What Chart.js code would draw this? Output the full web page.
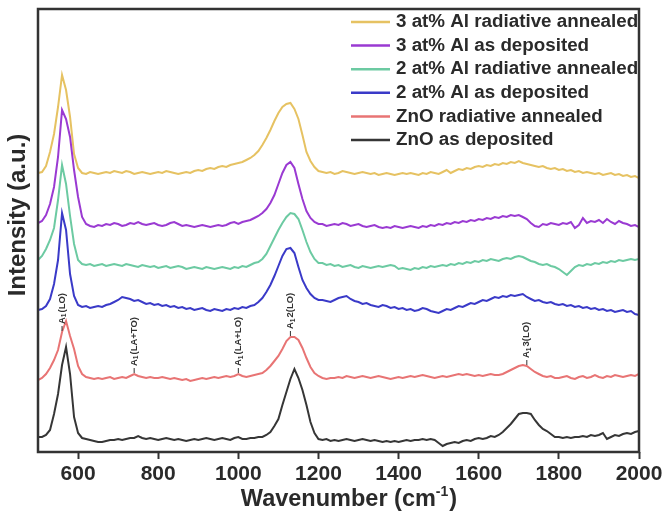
<!DOCTYPE html>
<html>
<head>
<meta charset="utf-8">
<title>Raman spectra</title>
<script src="https://cdn.jsdelivr.net/npm/chart.js@4.4.0/dist/chart.umd.min.js"></script>
<style>
  html, body { margin: 0; padding: 0; background: #fff; }
  #wrap { width: 667px; height: 519px; }
</style>
</head>
<body>
<div id="wrap"><canvas id="raman"></canvas></div>
<script>
// Raman shift grid (cm-1), shared by all spectra
const wavenumber = [
  500, 510, 520, 530, 540, 550, 560, 570, 580, 590,
  600, 610, 620, 630, 640, 650, 660, 670, 680, 690,
  700, 710, 720, 730, 740, 750, 760, 770, 780, 790,
  800, 810, 820, 830, 840, 850, 860, 870, 880, 890,
  900, 910, 920, 930, 940, 950, 960, 970, 980, 990,
  1000, 1010, 1020, 1030, 1040, 1050, 1060, 1070, 1080, 1090,
  1100, 1110, 1120, 1130, 1140, 1150, 1160, 1170, 1180, 1190,
  1200, 1210, 1220, 1230, 1240, 1250, 1260, 1270, 1280, 1290,
  1300, 1310, 1320, 1330, 1340, 1350, 1360, 1370, 1380, 1390,
  1400, 1410, 1420, 1430, 1440, 1450, 1460, 1470, 1480, 1490,
  1500, 1510, 1520, 1530, 1540, 1550, 1560, 1570, 1580, 1590,
  1600, 1610, 1620, 1630, 1640, 1650, 1660, 1670, 1680, 1690,
  1700, 1710, 1720, 1730, 1740, 1750, 1760, 1770, 1780, 1790,
  1800, 1810, 1820, 1830, 1840, 1850, 1860, 1870, 1880, 1890,
  1900, 1910, 1920, 1930, 1940, 1950, 1960, 1970, 1980, 1990,
  2000
];

// stacked intensities (a.u., offset per sample)
const znoDeposited = [
  15, 15, 17, 22, 38, 58, 87, 105, 78, 35,
  19, 14, 13, 12, 11, 10, 10, 11, 12, 12,
  13, 12, 13, 14, 14, 16, 14, 13, 14, 13,
  12, 13, 14, 13, 12, 13, 12, 11, 12, 13,
  12, 13, 14, 13, 12, 13, 14, 13, 12, 14,
  15, 13, 13, 14, 14, 15, 15, 17, 20, 26,
  33, 47, 60, 73, 83, 74, 62, 47, 30, 19,
  13, 12, 13, 11, 12, 11, 12, 13, 12, 11,
  12, 13, 12, 11, 12, 11, 10, 11, 10, 11,
  10, 11, 12, 11, 12, 12, 13, 12, 13, 12,
  9, 6, 8, 9, 10, 9, 11, 12, 11, 13,
  14, 13, 14, 16, 15, 17, 20, 24, 28, 33,
  38, 39, 39, 38, 32, 27, 23, 21, 18, 15,
  15, 14, 15, 14, 15, 15, 16, 15, 17, 16,
  17, 19, 13, 15, 17, 16, 18, 19, 18, 20,
  21
];

const znoAnnealed = [
  72, 74, 78, 84, 92, 102, 120, 131, 116, 103,
  86, 78, 75, 74, 73, 74, 73, 74, 75, 73,
  74, 75, 74, 76, 78, 76, 75, 74, 75, 74,
  74, 75, 74, 73, 74, 73, 72, 73, 71, 72,
  73, 74, 73, 74, 75, 74, 75, 76, 75, 76,
  78, 76, 75, 76, 77, 78, 79, 82, 86, 91,
  96, 103, 111, 115, 115, 112, 104, 94, 85, 79,
  76, 74, 73, 74, 74, 75, 74, 76, 75, 74,
  75, 76, 75, 74, 75, 76, 75, 74, 73, 74,
  75, 74, 75, 76, 75, 76, 77, 76, 75, 74,
  75, 76, 75, 76, 77, 78, 77, 78, 77, 76,
  77, 76, 77, 78, 77, 77, 78, 80, 82, 84,
  86, 87, 86, 83, 80, 78, 76, 75, 76, 74,
  74, 75, 76, 74, 73, 75, 76, 74, 75, 77,
  75, 74, 76, 75, 77, 76, 75, 76, 77, 76,
  78
];

const al2Deposited = [
  142, 143, 146, 153, 168, 192, 239, 222, 178, 156,
  147, 145, 146, 144, 145, 146, 145, 147, 148, 150,
  152, 155, 154, 153, 151, 152, 150, 148, 149, 147,
  148, 146, 147, 145, 146, 144, 145, 143, 144, 142,
  143, 144, 142, 141, 143, 142, 141, 143, 142, 144,
  143, 145, 144, 146, 147, 150, 154, 160, 167, 176,
  186, 196, 203, 204, 199, 185, 172, 164, 158, 154,
  152, 152, 151, 150, 152, 154, 155, 156, 153, 151,
  150, 148, 149, 147, 146, 145, 147, 146, 144, 145,
  143, 144, 142, 143, 141, 142, 144, 143, 141, 140,
  139, 141, 143, 142, 144, 146, 145, 147, 149, 148,
  150, 152, 151, 153, 155, 154, 156, 155, 157, 156,
  157, 158, 155, 153, 151, 152, 150, 149, 150, 148,
  147, 148, 146, 147, 145, 146, 144, 145, 143, 144,
  142, 143, 141, 142, 140, 141, 142, 140, 141, 138,
  137
];

const al2Annealed = [
  192, 196, 203, 212, 224, 252, 287, 268, 236, 208,
  192, 188, 187, 188, 186, 187, 188, 186, 187, 188,
  187, 186, 188, 187, 186, 185, 187, 186, 185, 186,
  184, 185, 186, 184, 185, 186, 185, 183, 184, 185,
  184, 183, 185, 184, 183, 184, 185, 184, 183, 185,
  184, 186, 185, 187, 189, 190, 193, 198, 206, 214,
  222, 229, 235, 239, 238, 233, 222, 210, 200, 193,
  189, 189, 187, 188, 186, 187, 185, 186, 187, 185,
  184, 186, 185, 184, 185, 186, 185, 186, 187, 186,
  183, 184, 183, 182, 184, 183, 185, 184, 186, 185,
  186, 187, 186, 188, 187, 189, 188, 190, 189, 191,
  190, 192, 191, 193, 192, 191, 193, 194, 193, 195,
  196, 195, 193, 191, 190, 188, 187, 188, 186, 185,
  183, 180, 177, 181, 185, 187, 186, 188, 187, 189,
  188, 190, 189, 191, 190, 192, 191, 192, 193, 192,
  193
];

const al3Deposited = [
  229, 231, 237, 248, 265, 295, 342, 333, 315, 282,
  255, 235, 228, 226, 225, 227, 226, 228, 227, 229,
  228, 226, 227, 229, 228, 230, 228, 227, 228, 229,
  227, 226, 227, 229, 230, 228, 226, 227, 226, 225,
  226, 227, 226, 225, 226, 227, 226, 227, 229, 230,
  228, 230, 231, 232, 234, 236, 239, 243, 249, 257,
  268, 279, 287, 290, 284, 268, 253, 241, 234, 230,
  228, 228, 226, 227, 228, 227, 229, 228, 226, 227,
  228, 226, 225, 226, 227, 225, 224, 225, 224, 226,
  225, 224, 225, 226, 225, 224, 226, 225, 227, 226,
  228, 227, 229, 228, 230, 229, 231, 230, 232, 231,
  233, 232, 234, 233, 235, 234, 236, 235, 237, 236,
  237, 235, 233, 229, 226, 225, 228, 227, 229, 228,
  227, 229, 228, 230, 224, 227, 234, 229, 231, 230,
  232, 229, 233, 230, 228, 231, 229, 228, 226, 227,
  225
];

const al3Annealed = [
  279, 280, 286, 300, 318, 345, 377, 362, 335, 298,
  284, 279, 278, 280, 279, 278, 279, 280, 279, 281,
  280, 279, 281, 280, 278, 279, 280, 279, 278, 279,
  280, 279, 281, 280, 279, 278, 279, 280, 279, 281,
  282, 281, 283, 284, 283, 285, 286, 285, 287, 288,
  289, 290, 292, 294, 297, 301, 307, 314, 322, 331,
  339, 345, 348, 349, 343, 333, 317, 300, 291, 285,
  281, 280, 279, 280, 278, 279, 281, 280, 279, 278,
  279, 280, 279, 278, 279, 277, 278, 279, 278, 277,
  278, 279, 278, 279, 278, 277, 279, 278, 280, 279,
  278, 280, 282, 279, 281, 283, 282, 284, 283, 285,
  286, 285, 287, 286, 288, 287, 289, 288, 290, 289,
  291, 289, 288, 287, 286, 285, 286, 284, 283, 284,
  282, 283, 281, 282, 280, 281, 279, 280, 279, 278,
  279, 277, 278, 279, 277, 278, 276, 277, 275, 276,
  274
];

const seriesNames = [
  'ZnO as deposited',
  'ZnO radiative annealed',
  '2 at% Al as deposited',
  '2 at% Al radiative annealed',
  '3 at% Al as deposited',
  '3 at% Al radiative annealed'
];
const seriesColors = ['#363636', '#e87474', '#3a3ac8', '#6ccaa2', '#9a3ad2', '#e6c262'];

// phonon mode labels, placed over the ZnO radiative annealed trace
const bandPositions = [560, 740, 1000, 1130, 1720];
const bandPrefix = ['', '', '', '2', '3'];
const bandSuffix = ['(LO)', '(LA+TO)', '(LA+LO)', '(LO)', '(LO)'];

const xTicks = [600, 800, 1000, 1200, 1400, 1600, 1800, 2000];

const FONT = '"Liberation Sans", Arial, sans-serif';
const INK = '#2a2a2a';

const spectra = [znoDeposited, znoAnnealed, al2Deposited, al2Annealed, al3Deposited, al3Annealed];

const framePlugin = {
  id: 'frame',
  afterDatasetsDraw(chart) {
    const { ctx, chartArea: a } = chart;
    ctx.save();
    ctx.strokeStyle = '#333';
    ctx.lineWidth = 2.5;
    ctx.strokeRect(a.left, a.top, a.right - a.left, a.bottom - a.top);
    ctx.restore();
  }
};

const bandLabelPlugin = {
  id: 'bandLabels',
  afterDatasetsDraw(chart) {
    const { ctx, scales: { x, y } } = chart;
    ctx.save();
    ctx.fillStyle = '#333';
    ctx.strokeStyle = '#333';
    ctx.lineWidth = 1;
    bandPositions.forEach((w, i) => {
      const idx = wavenumber.indexOf(w);
      const px = x.getPixelForValue(w);
      const py = y.getPixelForValue(znoAnnealed[idx]);
      ctx.beginPath();
      ctx.moveTo(px, py - 1);
      ctx.lineTo(px, py - 6);
      ctx.stroke();
      ctx.save();
      ctx.translate(px, py - 8);
      ctx.rotate(-Math.PI / 2);
      ctx.textBaseline = 'middle';
      ctx.textAlign = 'left';
      let cx = 0;
      ctx.font = 'bold 9.5px ' + FONT;
      ctx.fillText('A', cx, 0);
      cx += ctx.measureText('A').width;
      ctx.font = 'bold 6.5px ' + FONT;
      ctx.fillText('1', cx, 2.5);
      cx += ctx.measureText('1').width + 1;
      ctx.font = 'bold 9.5px ' + FONT;
      ctx.fillText(bandPrefix[i] + bandSuffix[i], cx, 0);
      ctx.restore();
    });
    ctx.restore();
  }
};

const legendPlugin = {
  id: 'stackLegend',
  afterDraw(chart) {
    const { ctx } = chart;
    ctx.save();
    ctx.font = 'bold 18.8px ' + FONT;
    ctx.textBaseline = 'middle';
    ctx.textAlign = 'left';
    const order = chart.data.datasets.slice().reverse();
    order.forEach((ds, i) => {
      const yy = 22 + i * 23.6;
      ctx.strokeStyle = ds.borderColor;
      ctx.lineWidth = 2.5;
      ctx.beginPath();
      ctx.moveTo(351, yy);
      ctx.lineTo(390, yy);
      ctx.stroke();
      ctx.fillStyle = INK;
      ctx.fillText(ds.label, 396, yy);
    });
    ctx.restore();
  }
};

const axisTitlePlugin = {
  id: 'axisTitles',
  afterDraw(chart) {
    const { ctx } = chart;
    ctx.save();
    ctx.fillStyle = INK;
    ctx.textBaseline = 'middle';
    ctx.textAlign = 'left';
    // x title with superscript
    const big = 'bold 23.5px ' + FONT, small = 'bold 14px ' + FONT;
    ctx.font = big;
    const p1 = 'Wavenumber (cm', p3 = ')';
    const w1 = ctx.measureText(p1).width, w3 = ctx.measureText(p3).width;
    ctx.font = small;
    const w2 = ctx.measureText('-1').width;
    let sx = 349 - (w1 + w2 + 1 + w3) / 2;
    const ty = 500;
    ctx.font = big;
    ctx.fillText(p1, sx, ty);
    ctx.font = small;
    ctx.fillText('-1', sx + w1, ty - 8);
    ctx.font = big;
    ctx.fillText(p3, sx + w1 + w2 + 1, ty);
    // y title
    ctx.translate(18, 215);
    ctx.rotate(-Math.PI / 2);
    ctx.textAlign = 'center';
    ctx.font = 'bold 24px ' + FONT;
    ctx.fillText('Intensity (a.u.)', 0, 0);
    ctx.restore();
  }
};

new Chart(document.getElementById('raman'), {
  type: 'line',
  data: {
    labels: wavenumber,
    datasets: spectra.map((s, i) => ({
      label: seriesNames[i],
      data: s,
      borderColor: seriesColors[i],
      borderWidth: 2,
      pointRadius: 0,
      tension: 0,
      fill: false
    }))
  },
  options: {
    responsive: true,
    maintainAspectRatio: false,
    animation: false,
    devicePixelRatio: 1,
    layout: { padding: { top: 9, right: 28, left: 0, bottom: 0 } },
    plugins: { legend: { display: false }, tooltip: { enabled: false } },
    scales: {
      x: {
        type: 'linear',
        min: 500,
        max: 2000,
        afterBuildTicks: (scale) => { scale.ticks = xTicks.map(v => ({ value: v })); },
        ticks: {
          font: { family: FONT, size: 21, weight: 'bold' },
          color: INK,
          padding: 3,
          maxRotation: 0,
          autoSkip: false,
          callback: (v) => String(v)
        },
        grid: {
          display: true,
          drawOnChartArea: false,
          drawTicks: true,
          tickLength: 7,
          tickWidth: 2,
          tickColor: '#333'
        },
        border: { display: false },
        afterFit: (scale) => { scale.height = 67; }
      },
      y: {
        min: 0,
        max: 443,
        ticks: { display: false },
        grid: { display: false },
        border: { display: false },
        afterFit: (scale) => { scale.width = 38; }
      }
    }
  },
  plugins: [framePlugin, bandLabelPlugin, legendPlugin, axisTitlePlugin]
});
</script>
</body>
</html>
